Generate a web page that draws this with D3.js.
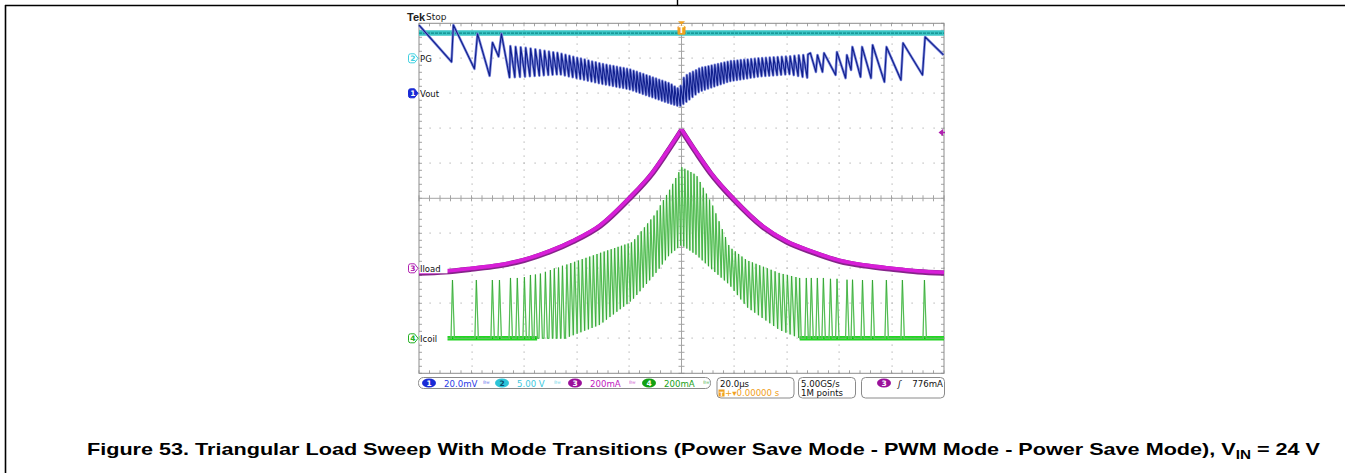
<!DOCTYPE html>
<html><head><meta charset="utf-8">
<script src="https://cdn.jsdelivr.net/npm/d3@7/dist/d3.min.js"></script>
<style>html,body{margin:0;padding:0;background:#fff;} svg{display:block;}</style>
</head><body>
<svg id="chart" width="1345" height="473"></svg>
<script>
// ---------------- DATA (read from the oscilloscope capture) ----------------
const timeDomain = [-100, 100];       // µs ; 20.0 µs/div, trigger at 0
const timePerDiv = 20;
const channelNames = ["Vout", "PG", "Iload", "Icoil"];
const channelNumbers = ["1", "2", "3", "4"];
const channelOffsetsDiv = [3, 4, -2, -4];      // ground marker, divisions from centre
const channelScales = [20, 5, 200, 200];       // mV/div, V/div, mA/div, mA/div
const channelReadouts = ["20.0mV", "5.00 V", "200mA", "200mA"];
const timeReadout = "20.0µs";
const triggerPosReadout = "+\u25BE0.00000 s";
const sampleReadouts = ["5.00GS/s", "1M points"];
const triggerLevel = 776;                      // mA on ch3
const triggerReadout = "776mA";
const headerText = ["Tek", "Stop"];
const captionMain = "Figure 53. Triangular Load Sweep With Mode Transitions (Power Save Mode - PWM Mode - Power Save Mode), V";
const captionSub = "IN";
const captionEnd = " = 24 V";

// PG (V)
const pgTime = [-100, 100];
const pgValue = [3.6, 3.6];

// Iload (mA) – rising half and falling half
const iloadTimeLeft  = [-100, -90, -80, -70, -60, -50, -41.4, -31, -20, -11, -5.7, 0];
const iloadValueLeft = [-22, -15, 0, 18, 50, 100, 157, 246, 400, 549, 663, 794];
const iloadTimeRight  = [0, 5.7, 11, 20, 31, 40, 50, 60, 70, 80, 90, 100];
const iloadValueRight = [794, 663, 549, 395, 240, 155, 95, 46, 18, 0, -15, -23];

// Vout (mV) – power save sawtooth vertices, left side
const voutLeftTime  = [-100, -87.6, -86.9, -78.9, -77.7, -73.1, -72.0, -69.7, -68.6, -65.5];
const voutLeftValue = [39, 18, 39, 14, 34, 10, 29, 21, 34, 9];
// Vout dense ripple envelope (mV)
const voutEnvTime   = [-65.5, -57.9, -46.5, -31.2, -19.8, -12.2, -4.6, -0.8, 1.1, 6.9, 18.3, 29.7, 41.1, 48.8];
const voutEnvTop    = [27, 25.7, 22.9, 17.1, 13.7, 9.7, 5.7, 2.3, 9.7, 14.3, 18.3, 20, 21.1, 22.3];
const voutEnvBottom = [9, 9.7, 10.9, 5.7, 2.3, -1.7, -5.7, -7.4, -5.7, 1.1, 6.9, 9.7, 10.9, 8.6];
// Vout – power save sawtooth vertices, right side
const voutRightTime  = [49.1, 51.2, 51.8, 53.7, 54.3, 58.7, 59.2, 62.5, 63.0, 64.6, 65.1, 68.2, 68.8, 72.2, 72.8, 77.3, 78.1, 83.6, 84.4, 91.8, 92.8, 99.8];
const voutRightValue = [23.0, 12.2, 21.9, 12.2, 23.0, 10.5, 23.6, 8.7, 21.9, 13.3, 26.5, 9.3, 26.5, 8.7, 27.6, 6.5, 26.5, 7.6, 28.7, 10.5, 32.2, 21.9];

// Icoil (mA) – isolated power-save pulses
const icoilPulseLeftTime = [-87.6, -78.5, -72.4, -69.7, -65.5, -62.9, -60.2, -57.9, -56.0, -54.1, -52.2, -50.3, -48.8, -47.2, -45.7];
const icoilPulseLeftPeak = [333, 333, 333, 333, 345, 345, 350, 362, 365, 370, 380, 390, 400, 405, 415];
const icoilPulseRightTime = [47.2, 49.1, 51.4, 53.7, 56.4, 58.9, 62.7, 64.8, 68.6, 72.4, 77.7, 83.8, 92.2];
const icoilPulseRightPeak = [345, 345, 345, 345, 340, 340, 335, 335, 333, 333, 333, 333, 333];
// Icoil dense switching envelope (mA)
const icoilEnvTime   = [-44.2, -31.2, -18.7, -10.3, -4.6, 0, 5.7, 11.8, 18.3, 24.8, 37.3, 45];
const icoilEnvTop    = [419, 487, 550, 705, 847, 979, 933, 762, 522, 447, 373, 345];
const icoilEnvBottom = [0, 76, 219, 362, 476, 533, 476, 390, 305, 179, 47, 0];
const icoilBaselineSegments = [[-100, -55], [45, 100]];

// apparent ripple period on screen (µs)
const rippleTime   = [-65, -45, -20, 0, 20, 45, 50];
const ripplePeriod = [2.0, 1.5, 1.25, 1.15, 1.25, 1.7, 2.0];

// ---------------- SCALES ----------------
const svg = d3.select("#chart");
const x = d3.scaleLinear().domain(timeDomain).range([419, 944]);
const yDiv = d3.scaleLinear().domain([-5, 5]).range([373.3, 23.3]);
const chY = ci => v => yDiv(channelOffsetsDiv[ci] + v / channelScales[ci]);
const yVout = chY(0), yPG = chY(1), yIload = chY(2), yIcoil = chY(3);

const interp = (ts, vs) => d3.scaleLinear().domain(ts).range(vs).clamp(true);
const periodAt = interp(rippleTime, ripplePeriod);
function ripple(t0, t1, topF, botF, riseFrac) {
  const pts = []; let t = t0;
  while (t < t1) {
    const P = periodAt(t);
    pts.push([t, botF(t)]);
    const tp = Math.min(t + riseFrac * P, t1);
    pts.push([tp, topF(tp)]);
    t += P;
  }
  return pts;
}
const zip = (a, b) => a.map((t, i) => [t, b[i]]);

// ---------------- FRAME ----------------
svg.append("rect").attr("width", 1345).attr("height", 473).attr("fill", "#fff");
svg.append("line").attr("x1", 5).attr("x2", 1345).attr("y1", 5.5).attr("y2", 5.5).attr("stroke", "#000").attr("stroke-width", 1.6);
svg.append("line").attr("x1", 5.5).attr("x2", 5.5).attr("y1", 5).attr("y2", 473).attr("stroke", "#000").attr("stroke-width", 1.6);
svg.append("line").attr("x1", 677.5).attr("x2", 677.5).attr("y1", 0).attr("y2", 6).attr("stroke", "#000").attr("stroke-width", 1.4);

// ---------------- GRATICULE ----------------
const [gx0, gx1] = x.range();
const gyB = yDiv(-5), gyT = yDiv(5);
const gCol = "#a4a4a4";
const g = svg.append("g");
const dots = [];
d3.range(-4, 5).filter(d => d !== 0).forEach(d => {
  d3.range(0, 51).forEach(k => dots.push([x(timeDomain[0] + k * timePerDiv / 5), yDiv(d)]));
});
d3.range(1, 10).filter(i => i !== 5).forEach(i => {
  const t = timeDomain[0] + i * timePerDiv;
  d3.range(0, 51).forEach(k => dots.push([x(t), yDiv(-5 + k * 0.2)]));
});
g.selectAll("rect.dot").data(dots).join("rect").attr("class", "dot")
  .attr("x", d => Math.round(d[0]) - 0.5).attr("y", d => Math.round(d[1]) - 0.5)
  .attr("width", 1.2).attr("height", 1.2).attr("fill", "#b4b4b4");
g.append("line").attr("x1", gx0).attr("x2", gx1).attr("y1", yDiv(0)).attr("y2", yDiv(0)).attr("stroke", gCol);
g.append("line").attr("x1", x(0)).attr("x2", x(0)).attr("y1", gyT).attr("y2", gyB).attr("stroke", gCol);
const ticks = [];
d3.range(0, 51).forEach(k => {
  const xx = x(timeDomain[0] + k * timePerDiv / 5);
  ticks.push([xx, yDiv(0) - 3, xx, yDiv(0) + 3]);
  ticks.push([xx, gyT, xx, gyT + 3]);
  ticks.push([xx, gyB, xx, gyB - 3]);
  const yy = yDiv(-5 + k * 0.2);
  ticks.push([x(0) - 3, yy, x(0) + 3, yy]);
  ticks.push([gx0, yy, gx0 + 3, yy]);
  ticks.push([gx1, yy, gx1 - 3, yy]);
});
g.selectAll("line.tk").data(ticks).join("line").attr("class", "tk")
  .attr("x1", d => d[0]).attr("y1", d => d[1]).attr("x2", d => d[2]).attr("y2", d => d[3])
  .attr("stroke", gCol).attr("stroke-width", 1);
g.append("rect").attr("x", gx0).attr("y", gyT).attr("width", gx1 - gx0).attr("height", gyB - gyT)
  .attr("fill", "none").attr("stroke", "#8c8c8c").attr("stroke-width", 1);

// ---------------- TRACES ----------------
const traces = svg.append("g");
const line = (yf, curve) => d3.line().x(d => x(d[0])).y(d => yf(d[1])).curve(curve || d3.curveLinear);

// Icoil (ch4)
const icoilTop = interp(icoilEnvTime, icoilEnvTop), icoilBot = interp(icoilEnvTime, icoilEnvBottom);
const envPts = icoilEnvTime.map(t => [t, icoilTop(t), icoilBot(t)]);
traces.append("path").datum(envPts)
  .attr("d", d3.area().x(d => x(d[0])).y0(d => yIcoil(d[2])).y1(d => yIcoil(d[1])))
  .attr("fill", "#cdf2cd").attr("opacity", 0.35);
icoilBaselineSegments.forEach(s => {
  traces.append("path").datum(s.map(t => [t, 0])).attr("d", line(yIcoil))
    .attr("stroke", "#22d622").attr("stroke-width", 4.5).attr("fill", "none");
  traces.append("path").datum(s.map(t => [t, 0])).attr("d", line(yIcoil))
    .attr("stroke", "#0ea80e").attr("stroke-width", 1).attr("stroke-dasharray", "2,2").attr("fill", "none");
});
const icoilPts = [[timeDomain[0], 0]];
icoilPulseLeftTime.forEach((t, i) => icoilPts.push([t - 0.2, 0], [t + 0.35, icoilPulseLeftPeak[i]], [t + 1.1, 0]));
icoilPts.push(...ripple(icoilEnvTime[0], icoilEnvTime[icoilEnvTime.length - 1], icoilTop, icoilBot, 0.35));
icoilPts.push([45.6, 0]);
icoilPulseRightTime.forEach((t, i) => icoilPts.push([t - 0.2, 0], [t + 0.35, icoilPulseRightPeak[i]], [t + 1.1, 0]));
icoilPts.push([timeDomain[1], 0]);
traces.append("path").datum(icoilPts).attr("d", line(yIcoil))
  .attr("stroke", "#92e492").attr("stroke-width", 1.3).attr("fill", "none");
traces.append("path").datum(icoilPts).attr("d", line(yIcoil))
  .attr("stroke", "#138c13").attr("stroke-width", 0.5).attr("fill", "none");

// Iload (ch3)
[[iloadTimeLeft, iloadValueLeft], [iloadTimeRight, iloadValueRight]].forEach(([ts, vs]) => {
  const pts = zip(ts, vs);
  traces.append("path").datum(pts).attr("d", line(yIload, d3.curveMonotoneX))
    .attr("transform", "translate(0,0.8)")
    .attr("stroke", "#86248a").attr("stroke-width", 5.4).attr("fill", "none");
  traces.append("path").datum(pts).attr("d", line(yIload, d3.curveMonotoneX))
    .attr("stroke", "#d81ed8").attr("stroke-width", 3.6).attr("fill", "none");
});

// PG (ch2)
const pgPts = zip(pgTime, pgValue);
traces.append("path").datum(pgPts).attr("d", line(yPG))
  .attr("stroke", "#3cc6c6").attr("stroke-width", 5.5).attr("fill", "none");
traces.append("path").datum(pgPts).attr("d", line(yPG))
  .attr("stroke", "#0f8a8a").attr("stroke-width", 1.2).attr("stroke-dasharray", "3,1").attr("fill", "none");

// Vout (ch1)
const voutTop = interp(voutEnvTime, voutEnvTop), voutBot = interp(voutEnvTime, voutEnvBottom);
const voutPts = zip(voutLeftTime, voutLeftValue)
  .concat(ripple(voutEnvTime[0], voutEnvTime[voutEnvTime.length - 1], voutTop, voutBot, 0.15))
  .concat(zip(voutRightTime, voutRightValue));
traces.append("path").datum(voutPts).attr("d", line(yVout))
  .attr("stroke", "#7d88dc").attr("stroke-width", 2.6).attr("fill", "none").attr("stroke-linejoin", "round");
traces.append("path").datum(voutPts).attr("d", line(yVout))
  .attr("stroke", "#0f1e8c").attr("stroke-width", 1.1).attr("fill", "none").attr("stroke-linejoin", "round");

// ---------------- ON-SCREEN LABELS ----------------
const font = "'DejaVu Sans', Verdana, sans-serif";
svg.append("text").attr("x", 407).attr("y", 20.5).attr("font-family", "'Liberation Sans', Arial, sans-serif")
  .attr("font-weight", "bold").attr("font-size", 11).attr("fill", "#222").text(headerText[0]);
svg.append("text").attr("x", 426).attr("y", 20).attr("font-family", font)
  .attr("font-size", 9).attr("fill", "#222").text(headerText[1]);

const markerCols = ["#1a2bd6", "#3fd0e0", "#b020b0", "#22b022"];
const labelOrder = [1, 0, 2, 3];
labelOrder.forEach(ci => {
  const yy = yDiv(channelOffsetsDiv[ci]);
  const x0 = 408.5;
  svg.append("rect").attr("x", 419.5).attr("y", yy - 6).attr("width", channelNames[ci].length * 5.2 + 2).attr("height", 11).attr("fill", "#fff");
  svg.append("path").attr("d", `M${x0 + 2},${yy - 4.5} H${x0 + 6} L${x0 + 9.5},${yy} L${x0 + 6},${yy + 4.5} H${x0 + 2} Q${x0},${yy + 4.5} ${x0},${yy + 2.5} V${yy - 2.5} Q${x0},${yy - 4.5} ${x0 + 2},${yy - 4.5} Z`)
    .attr("fill", ci === 0 ? markerCols[ci] : "#fff").attr("stroke", markerCols[ci]).attr("stroke-width", 1);
  svg.append("text").attr("x", x0 + 4.3).attr("y", yy + 3).attr("text-anchor", "middle")
    .attr("font-family", font).attr("font-size", 7.5).attr("font-weight", "bold")
    .attr("fill", ci === 0 ? "#fff" : markerCols[ci]).text(channelNumbers[ci]);
  svg.append("text").attr("x", 420).attr("y", yy + 3.5).attr("font-family", font)
    .attr("font-size", 8.5).attr("fill", "#111").text(channelNames[ci]);
});

// trigger position marker (top)
svg.append("path").attr("d", `M${x(0) - 3.5},${gyT - 2} L${x(0) + 3.5},${gyT - 2} L${x(0)},${gyT + 1.5} Z`).attr("fill", "#f0a020");
svg.append("rect").attr("x", x(0) - 4).attr("y", gyT + 2.5).attr("width", 8).attr("height", 9).attr("rx", 1.5).attr("fill", "#f0a020");
svg.append("text").attr("x", x(0)).attr("y", gyT + 10).attr("text-anchor", "middle").attr("font-family", font)
  .attr("font-size", 8).attr("font-weight", "bold").attr("fill", "#fff").text("T");
// trigger level marker (right)
const ty = yIload(triggerLevel);
svg.append("path").attr("d", `M${gx1 - 5.5},${ty} L${gx1 - 1},${ty - 3.5} L${gx1 - 1},${ty + 3.5} Z`).attr("fill", "#b020b0");
svg.append("line").attr("x1", gx1 - 2).attr("x2", gx1 + 1).attr("y1", ty).attr("y2", ty).attr("stroke", "#b020b0").attr("stroke-width", 1.5);

// ---------------- STATUS BAR ----------------
const sb = svg.append("g").attr("font-family", font).attr("font-size", 8.6);
const boxStroke = "#8a8a8a";
sb.append("rect").attr("x", 418.5).attr("y", 377.5).attr("width", 292).attr("height", 11).attr("rx", 5).attr("fill", "#fff").attr("stroke", boxStroke);
const chipX = [429, 502, 575, 649];
const readX = [444, 517, 590, 664];
const readCols = ["#2a3ae6", "#3cc8e0", "#c020c0", "#18a018"];
const chipFill = ["#1a2bd6", "#2cc4d8", "#9a109a", "#12a012"];
const chipText = ["#fff", "#0a4a6a", "#fff", "#fff"];
[0, 1, 2, 3].forEach(ci => {
  sb.append("ellipse").attr("cx", chipX[ci]).attr("cy", 383).attr("rx", 7).attr("ry", 4.6).attr("fill", chipFill[ci]);
  sb.append("text").attr("x", chipX[ci]).attr("y", 386).attr("text-anchor", "middle").attr("font-size", 7.5)
    .attr("font-weight", "bold").attr("fill", chipText[ci]).text(channelNumbers[ci]);
  sb.append("text").attr("x", readX[ci]).attr("y", 386.5).attr("fill", readCols[ci]).text(channelReadouts[ci]);
  sb.append("text").attr("x", readX[ci] + (ci === 1 ? 37 : 39)).attr("y", 386).attr("font-size", 7)
    .attr("fill", readCols[ci]).attr("opacity", 0.7).text("\u1D2E\u02B7");
});
sb.append("rect").attr("x", 717).attr("y", 377.5).attr("width", 77).attr("height", 20.5).attr("rx", 4).attr("fill", "#fff").attr("stroke", boxStroke);
sb.append("text").attr("x", 720).attr("y", 386.5).attr("fill", "#111").text(timeReadout);
sb.append("rect").attr("x", 718.5).attr("y", 389.5).attr("width", 6).attr("height", 7).attr("fill", "#f0a020");
sb.append("text").attr("x", 721.5).attr("y", 395.5).attr("text-anchor", "middle").attr("font-size", 6).attr("font-weight", "bold").attr("fill", "#fff").text("T");
sb.append("text").attr("x", 725).attr("y", 396).attr("fill", "#f0a020").text(triggerPosReadout);
sb.append("rect").attr("x", 798.5).attr("y", 377.5).attr("width", 57).attr("height", 20.5).attr("rx", 4).attr("fill", "#fff").attr("stroke", boxStroke);
sb.append("text").attr("x", 801).attr("y", 386.5).attr("fill", "#111").text(sampleReadouts[0]);
sb.append("text").attr("x", 801).attr("y", 396).attr("fill", "#111").text(sampleReadouts[1]);
sb.append("rect").attr("x", 861.5).attr("y", 377.5).attr("width", 83).attr("height", 20.5).attr("rx", 4).attr("fill", "#fff").attr("stroke", boxStroke);
sb.append("ellipse").attr("cx", 884).attr("cy", 383).attr("rx", 7).attr("ry", 4.6).attr("fill", chipFill[2]);
sb.append("text").attr("x", 884).attr("y", 386).attr("text-anchor", "middle").attr("font-size", 7.5).attr("font-weight", "bold").attr("fill", "#fff").text("3");
sb.append("text").attr("x", 898).attr("y", 386.5).attr("fill", "#111").attr("font-style", "italic").text("\u0283");
sb.append("text").attr("x", 943).attr("y", 386.5).attr("text-anchor", "end").attr("fill", "#111").text(triggerReadout);

// ---------------- CAPTION ----------------
const cap = svg.append("text").attr("x", 87).attr("y", 454.5)
  .attr("font-family", "'Liberation Sans', Arial, Helvetica, sans-serif").attr("font-weight", "bold")
  .attr("font-size", 17).attr("fill", "#000");
cap.append("tspan").text(captionMain);
cap.append("tspan").attr("font-size", 12).attr("dy", 4).text(captionSub);
cap.append("tspan").attr("dy", -4).text(captionEnd);
cap.attr("textLength", 1320 - 87).attr("lengthAdjust", "spacingAndGlyphs");
</script>
</body></html>
